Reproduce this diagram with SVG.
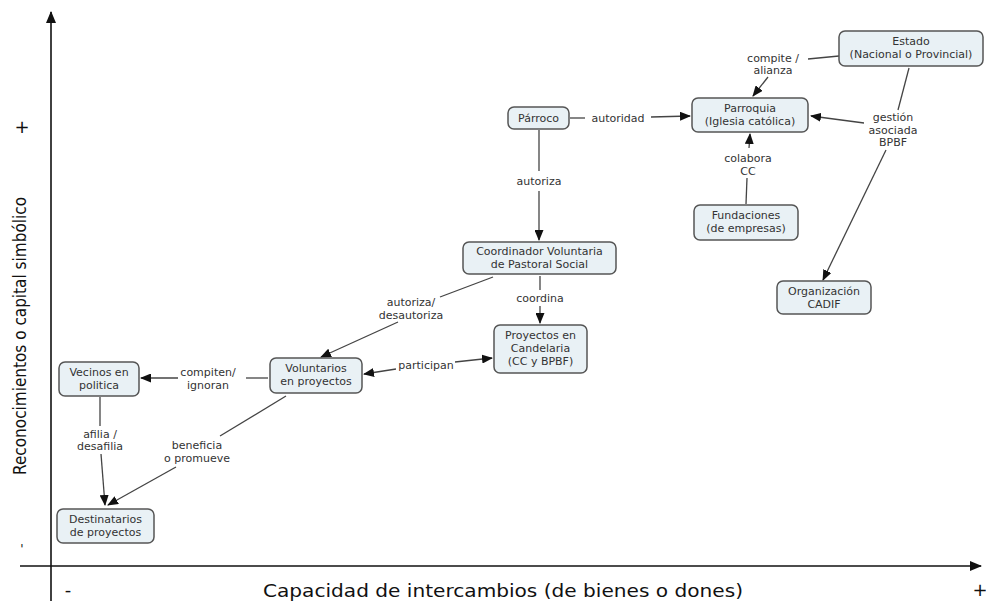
<svg xmlns="http://www.w3.org/2000/svg" width="986" height="601" viewBox="0 0 986 601">
<style>
.node rect{fill:#e9f1f5;stroke:#555;stroke-width:1.5}
.node text,.lbl{font-family:"DejaVu Sans",Verdana,sans-serif;font-size:11px;fill:#333;text-anchor:middle}
.c{stroke:#444;stroke-width:1.3;fill:none}
.axis{stroke:#111;stroke-width:1.6;fill:none}
.ax{font-family:"DejaVu Sans",Verdana,sans-serif;fill:#111}
</style>
<defs>
<marker id="ah" markerWidth="11" markerHeight="9" refX="10" refY="4.5" orient="auto" markerUnits="userSpaceOnUse"><path d="M0,0 L11,4.5 L0,9 z" fill="#111"/></marker>
<marker id="axh" markerWidth="12" markerHeight="10" refX="11" refY="5" orient="auto" markerUnits="userSpaceOnUse"><path d="M0,0 L12,5 L0,10 z" fill="#111"/></marker>
</defs>
<rect width="986" height="601" fill="#fff"/>
<g id="axes">
<line class="axis" x1="51" y1="601" x2="51" y2="12" marker-end="url(#axh)"/>
<line class="axis" x1="20" y1="566" x2="981" y2="566" marker-end="url(#axh)"/>
<text class="ax" x="20" y="336" font-family="'DejaVu Sans Condensed','Liberation Sans Narrow',sans-serif" font-size="18" text-anchor="middle" transform="rotate(-90 20 336)" dy="6" textLength="278" lengthAdjust="spacingAndGlyphs">Reconocimientos o capital simbólico</text>
<text class="ax" x="503" y="597" font-size="18" text-anchor="middle" textLength="480" lengthAdjust="spacingAndGlyphs">Capacidad de intercambios (de bienes o dones)</text>
<text class="ax" x="22" y="133" font-size="18" text-anchor="middle">+</text>
<text class="ax" x="22" y="553" font-size="12" text-anchor="middle">'</text>
<text class="ax" x="68" y="596" font-size="18" text-anchor="middle">-</text>
<text class="ax" x="980" y="596" font-size="18" text-anchor="middle">+</text>
</g>
<g id="connectors">
<line class="c" x1="839" y1="56" x2="808" y2="59"/>
<line class="c" x1="768" y1="77" x2="753" y2="96" marker-end="url(#ah)"/>
<text class="lbl" x="773" y="62">compite /</text>
<text class="lbl" x="773" y="74">alianza</text>
<line class="c" x1="570" y1="118" x2="585" y2="118"/>
<line class="c" x1="651" y1="117" x2="690" y2="116" marker-end="url(#ah)"/>
<text class="lbl" x="618" y="122">autoridad</text>
<line class="c" x1="909" y1="68" x2="898" y2="110"/>
<line class="c" x1="864" y1="123" x2="811" y2="116" marker-end="url(#ah)"/>
<text class="lbl" x="893" y="121">gestión</text>
<text class="lbl" x="893" y="134">asociada</text>
<text class="lbl" x="893" y="146">BPBF</text>
<line class="c" x1="886" y1="150" x2="823" y2="280" marker-end="url(#ah)"/>
<line class="c" x1="746" y1="204" x2="747" y2="178"/>
<line class="c" x1="749" y1="148" x2="750" y2="134" marker-end="url(#ah)"/>
<text class="lbl" x="748" y="162">colabora</text>
<text class="lbl" x="748" y="175">CC</text>
<line class="c" x1="539" y1="130" x2="539" y2="171"/>
<line class="c" x1="539" y1="191" x2="539" y2="240" marker-end="url(#ah)"/>
<text class="lbl" x="539" y="185">autoriza</text>
<line class="c" x1="540" y1="276" x2="540" y2="290"/>
<line class="c" x1="540" y1="306" x2="540" y2="323" marker-end="url(#ah)"/>
<text class="lbl" x="540" y="302">coordina</text>
<line class="c" x1="493" y1="277" x2="440" y2="297"/>
<line class="c" x1="398" y1="322" x2="321" y2="357" marker-end="url(#ah)"/>
<text class="lbl" x="411" y="306">autoriza/</text>
<text class="lbl" x="411" y="319">desautoriza</text>
<line class="c" x1="455" y1="362" x2="492" y2="358" marker-end="url(#ah)"/>
<line class="c" x1="396" y1="369" x2="364" y2="374" marker-end="url(#ah)"/>
<text class="lbl" x="426" y="369">participan</text>
<line class="c" x1="268" y1="378" x2="246" y2="378"/>
<line class="c" x1="178" y1="378" x2="141" y2="378" marker-end="url(#ah)"/>
<text class="lbl" x="208" y="376">compiten/</text>
<text class="lbl" x="208" y="389">ignoran</text>
<line class="c" x1="100" y1="397" x2="100" y2="426"/>
<line class="c" x1="101" y1="454" x2="105" y2="505" marker-end="url(#ah)"/>
<text class="lbl" x="100" y="438">afilia /</text>
<text class="lbl" x="100" y="450">desafilia</text>
<line class="c" x1="286" y1="396" x2="220" y2="436"/>
<line class="c" x1="176" y1="467" x2="108" y2="505" marker-end="url(#ah)"/>
<text class="lbl" x="197" y="449">beneficia</text>
<text class="lbl" x="197" y="462">o promueve</text>
</g>
<g id="parroco" class="node"><rect x="508" y="107" width="61" height="22" rx="6"/><text x="538.5" y="122">Párroco</text></g>
<g id="parroquia" class="node"><rect x="692" y="98" width="116" height="34" rx="6"/><text x="750" y="112">Parroquia</text><text x="750" y="125">(Iglesia católica)</text></g>
<g id="estado" class="node"><rect x="839" y="31" width="144" height="35" rx="6"/><text x="911" y="45">Estado</text><text x="911" y="58">(Nacional o Provincial)</text></g>
<g id="fundaciones" class="node"><rect x="694" y="205" width="104" height="35" rx="6"/><text x="746" y="219">Fundaciones</text><text x="746" y="232">(de empresas)</text></g>
<g id="cadif" class="node"><rect x="777" y="281" width="94" height="33" rx="6"/><text x="824" y="295">Organización</text><text x="824" y="308">CADIF</text></g>
<g id="coordinador" class="node"><rect x="463" y="242" width="153" height="32" rx="6"/><text x="539.5" y="255">Coordinador Voluntaria</text><text x="539.5" y="268">de Pastoral Social</text></g>
<g id="proyectos" class="node"><rect x="494" y="325" width="93" height="48" rx="6"/><text x="540.5" y="339">Proyectos en</text><text x="540.5" y="352">Candelaria</text><text x="540.5" y="365">(CC y BPBF)</text></g>
<g id="voluntarios" class="node"><rect x="270" y="358" width="92" height="35" rx="6"/><text x="316" y="372">Voluntarios</text><text x="316" y="385">en proyectos</text></g>
<g id="vecinos" class="node"><rect x="59" y="362" width="80" height="34" rx="6"/><text x="99" y="376">Vecinos en</text><text x="99" y="389">politica</text></g>
<g id="destinatarios" class="node"><rect x="57" y="509" width="97" height="34" rx="6"/><text x="105.5" y="523">Destinatarios</text><text x="105.5" y="536">de proyectos</text></g>
</svg>
